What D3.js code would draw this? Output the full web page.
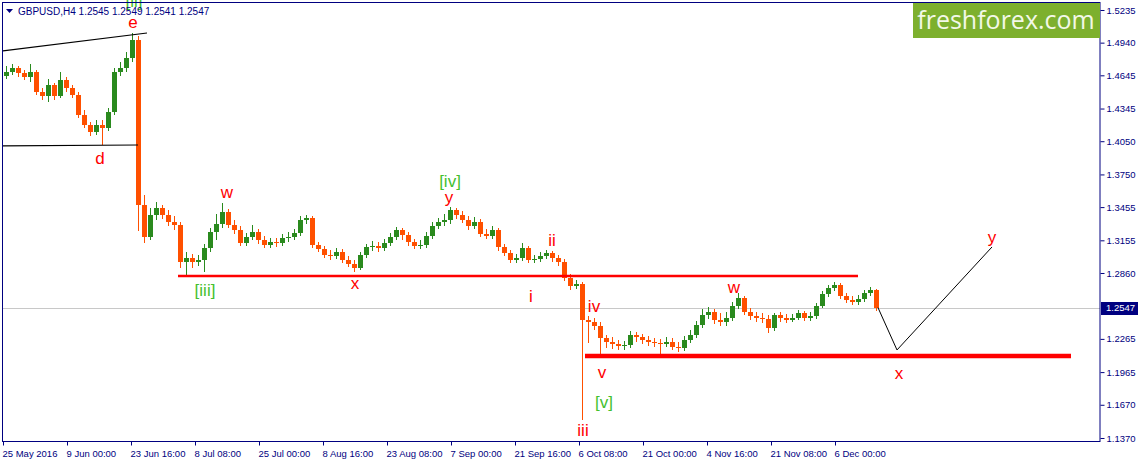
<!DOCTYPE html>
<html>
<head>
<meta charset="utf-8">
<script src="https://cdn.jsdelivr.net/npm/d3@7"></script>
<style>
  body { margin: 0; background: #fff; }
  svg { display: block; font-family: "Liberation Sans", Arial, sans-serif; }
</style>
</head>
<body>
<svg id="chart" width="1140" height="461"></svg>
<script>
// GBPUSD H4, 25 May - 12 Dec 2016, drawn as one candle per trading day (6 H4 bars each)
const dayOpen = [
  1.4639,1.4675,1.4711,1.4666,1.4630,1.4675,1.4494,1.4458,1.4558,1.4458,
  1.4603,1.4531,1.4467,1.4287,1.4196,1.4133,1.4196,1.4169,1.4314,1.4675,
  1.4711,1.4802,1.4964,1.3474,1.3185,1.3384,1.3447,1.3384,1.3321,1.3293,
  1.2959,1.2995,1.2959,1.2977,1.3086,1.3230,1.3302,1.3411,1.3293,1.3248,
  1.3131,1.3185,1.3230,1.3158,1.3113,1.3140,1.3131,1.3176,1.3185,1.3221,
  1.3339,1.3357,1.3113,1.3077,1.3023,1.3014,1.3050,1.2977,1.2941,1.2905,
  1.3023,1.3095,1.3104,1.3086,1.3131,1.3185,1.3248,1.3203,1.3140,1.3104,
  1.3113,1.3194,1.3284,1.3321,1.3339,1.3429,1.3384,1.3339,1.3284,1.3321,
  1.3212,1.3194,1.3248,1.3095,1.3041,1.2977,1.2995,1.3086,1.2977,1.2986,
  1.3014,1.3041,1.2995,1.2959,1.2815,1.2743,1.2761,1.2436,1.2418,1.2381,
  1.2273,1.2237,1.2219,1.2201,1.2210,1.2300,1.2282,1.2255,1.2237,1.2228,
  1.2219,1.2237,1.2192,1.2183,1.2255,1.2300,1.2390,1.2481,1.2508,1.2436,
  1.2418,1.2454,1.2562,1.2634,1.2508,1.2472,1.2454,1.2445,1.2363,1.2481,
  1.2454,1.2436,1.2454,1.2499,1.2454,1.2472,1.2562,1.2670,1.2725,1.2752,
  1.2652,1.2616,1.2598,1.2625,1.2679,1.2707
];
const dayHigh = [
  1.4729,1.4747,1.4729,1.4693,1.4747,1.4693,1.4531,1.4612,1.4576,1.4675,
  1.4630,1.4558,1.4494,1.4332,1.4224,1.4242,1.4242,1.4350,1.4711,1.4765,
  1.4856,1.5027,1.5000,1.3564,1.3447,1.3501,1.3474,1.3429,1.3375,1.3321,
  1.3050,1.3032,1.3023,1.3122,1.3266,1.3393,1.3492,1.3438,1.3339,1.3284,
  1.3221,1.3293,1.3257,1.3194,1.3176,1.3176,1.3212,1.3230,1.3257,1.3375,
  1.3384,1.3375,1.3140,1.3104,1.3068,1.3086,1.3077,1.3014,1.2977,1.3050,
  1.3122,1.3149,1.3140,1.3167,1.3221,1.3275,1.3266,1.3230,1.3167,1.3158,
  1.3230,1.3321,1.3357,1.3393,1.3456,1.3447,1.3420,1.3375,1.3366,1.3348,
  1.3257,1.3284,1.3266,1.3122,1.3068,1.3032,1.3131,1.3104,1.3023,1.3050,
  1.3068,1.3059,1.3023,1.2986,1.2851,1.2797,1.2779,1.2472,1.2454,1.2418,
  1.2300,1.2282,1.2255,1.2246,1.2336,1.2327,1.2309,1.2291,1.2273,1.2264,
  1.2282,1.2273,1.2237,1.2291,1.2345,1.2427,1.2535,1.2553,1.2535,1.2499,
  1.2508,1.2598,1.2679,1.2652,1.2544,1.2508,1.2499,1.2481,1.2499,1.2508,
  1.2490,1.2490,1.2526,1.2517,1.2508,1.2589,1.2697,1.2752,1.2779,1.2770,
  1.2679,1.2652,1.2661,1.2707,1.2734,1.2716
];
const dayLow = [
  1.4612,1.4648,1.4630,1.4603,1.4585,1.4467,1.4422,1.4404,1.4422,1.4440,
  1.4494,1.4440,1.4260,1.4169,1.4097,1.4106,1.4016,1.4142,1.4287,1.4639,
  1.4675,1.4765,1.3239,1.3131,1.3158,1.3339,1.3348,1.3284,1.3248,1.2905,
  1.2824,1.2905,1.2923,1.2869,1.3050,1.3158,1.3266,1.3266,1.3212,1.3104,
  1.3104,1.3158,1.3122,1.3086,1.3086,1.3095,1.3104,1.3140,1.3158,1.3194,
  1.3302,1.3086,1.3050,1.2995,1.2977,1.2986,1.2950,1.2914,1.2869,1.2887,
  1.2995,1.3059,1.3050,1.3059,1.3104,1.3158,1.3158,1.3104,1.3077,1.3077,
  1.3086,1.3167,1.3257,1.3284,1.3302,1.3348,1.3312,1.3248,1.3257,1.3185,
  1.3167,1.3167,1.3059,1.3014,1.2950,1.2950,1.2968,1.2950,1.2950,1.2959,
  1.2986,1.2959,1.2923,1.2788,1.2707,1.2716,1.1533,1.2228,1.2345,1.2092,
  1.2183,1.2174,1.2165,1.2165,1.2183,1.2237,1.2219,1.2201,1.2192,1.2092,
  1.2192,1.2165,1.2147,1.2156,1.2228,1.2273,1.2363,1.2445,1.2400,1.2381,
  1.2381,1.2427,1.2535,1.2481,1.2436,1.2418,1.2409,1.2318,1.2336,1.2418,
  1.2409,1.2418,1.2436,1.2427,1.2427,1.2445,1.2544,1.2643,1.2697,1.2625,
  1.2589,1.2571,1.2571,1.2598,1.2652,1.2517
];
const dayClose = [
  1.4675,1.4711,1.4666,1.4630,1.4675,1.4494,1.4458,1.4558,1.4458,1.4603,
  1.4531,1.4467,1.4287,1.4196,1.4133,1.4196,1.4169,1.4314,1.4675,1.4711,
  1.4802,1.4964,1.3474,1.3185,1.3384,1.3447,1.3384,1.3321,1.3293,1.2959,
  1.2995,1.2959,1.2977,1.3086,1.3230,1.3302,1.3411,1.3293,1.3248,1.3131,
  1.3185,1.3230,1.3158,1.3113,1.3140,1.3131,1.3176,1.3185,1.3221,1.3339,
  1.3357,1.3113,1.3077,1.3023,1.3014,1.3050,1.2977,1.2941,1.2905,1.3023,
  1.3095,1.3104,1.3086,1.3131,1.3185,1.3248,1.3203,1.3140,1.3104,1.3113,
  1.3194,1.3284,1.3321,1.3339,1.3429,1.3384,1.3339,1.3284,1.3321,1.3212,
  1.3194,1.3248,1.3095,1.3041,1.2977,1.2995,1.3086,1.2977,1.2986,1.3014,
  1.3041,1.2995,1.2959,1.2815,1.2743,1.2761,1.2436,1.2418,1.2381,1.2273,
  1.2237,1.2219,1.2201,1.2210,1.2300,1.2282,1.2255,1.2237,1.2228,1.2219,
  1.2237,1.2192,1.2183,1.2255,1.2300,1.2390,1.2481,1.2508,1.2436,1.2418,
  1.2454,1.2562,1.2634,1.2508,1.2472,1.2454,1.2445,1.2363,1.2481,1.2454,
  1.2436,1.2454,1.2499,1.2454,1.2472,1.2562,1.2670,1.2725,1.2752,1.2652,
  1.2616,1.2598,1.2625,1.2679,1.2707,1.2547
];

// time axis: position in H4 bars from the first bar
const timeTickBars = [0, 64, 128, 192, 256, 320, 384, 448, 512, 576, 640, 704, 768, 832];
const timeTickLabels = ["25 May 2016", "9 Jun 00:00", "23 Jun 16:00", "8 Jul 08:00", "25 Jul 00:00",
  "8 Aug 16:00", "23 Aug 08:00", "7 Sep 00:00", "21 Sep 16:00", "6 Oct 08:00", "21 Oct 00:00",
  "4 Nov 16:00", "21 Nov 08:00", "6 Dec 00:00"];
const priceTicks = [1.5235, 1.4940, 1.4645, 1.4345, 1.4050, 1.3750, 1.3455, 1.3155, 1.2860,
  1.2265, 1.1965, 1.1670, 1.1370];
const lastBar = { open: 1.2545, high: 1.2549, low: 1.2541, close: 1.2547 };

// wave count: text, bar, price, degree
const waveLabels = [
  ["[ii]", 131, 1.5318, "major"],
  ["e", 130, 1.5127, "minor"],
  ["d", 97, 1.3898, "minor"],
  ["w", 224, 1.3591, "minor"],
  ["[iii]", 202, 1.2707, "major"],
  ["x", 352, 1.2770, "minor"],
  ["[iv]", 447, 1.3691, "major"],
  ["y", 446, 1.3546, "minor"],
  ["ii", 549, 1.3158, "minor"],
  ["i", 528, 1.2652, "minor"],
  ["iv", 591, 1.2562, "minor"],
  ["v", 599, 1.1966, "minor"],
  ["[v]", 601, 1.1695, "major"],
  ["iii", 580, 1.1442, "minor"],
  ["w", 731, 1.2734, "minor"],
  ["x", 896, 1.1957, "minor"],
  ["y", 989, 1.3185, "minor"]
];

// triangle borders (black) and support / resistance (red)
const triangleTop = [[0, 1.4865], [144, 1.5027]];
const triangleBottom = [[0, 1.4008], [135, 1.4016]];
const resistanceLine = [[175, 1.2833], [855, 1.2833]];
const supportLine = [[582, 1.2111], [1068, 1.2111]];
const forecastPath = [[875, 1.2547], [894, 1.2165], [989, 1.3095]];

const navy = "#000080";
const upColor = "#2a8a1e", downColor = "#ff5000";

const svg = d3.select("#chart");
const plot = { left: 3, right: 1100, top: 2, bottom: 441 };

const x = d3.scaleLinear().domain([0, 1097]).range([plot.left, plot.right]);
const y = d3.scaleLinear().domain([1.13429, 1.53071]).range([plot.bottom, plot.top]);

// current price line
svg.append("line")
  .attr("x1", plot.left).attr("x2", plot.right)
  .attr("y1", Math.round(y(lastBar.close)) + 0.5).attr("y2", Math.round(y(lastBar.close)) + 0.5)
  .attr("stroke", "#c8c8c8").attr("stroke-width", 1);

// candles
const candles = dayClose.map((c, i) => ({ bar: i * 6 + 3, o: dayOpen[i], h: dayHigh[i], l: dayLow[i], c: c }));

const cg = svg.append("g").attr("shape-rendering", "crispEdges");
cg.selectAll("line.wick")
  .data(candles)
  .join("line")
  .attr("class", "wick")
  .attr("x1", d => Math.round(x(d.bar)) + 0.5)
  .attr("x2", d => Math.round(x(d.bar)) + 0.5)
  .attr("y1", d => y(d.h))
  .attr("y2", d => y(d.l))
  .attr("stroke", d => d.c >= d.o ? upColor : downColor)
  .attr("stroke-width", 1);
cg.selectAll("rect.body")
  .data(candles)
  .join("rect")
  .attr("class", "body")
  .attr("x", d => Math.round(x(d.bar)) - 2)
  .attr("width", 5)
  .attr("y", d => y(Math.max(d.o, d.c)))
  .attr("height", d => Math.max(1, y(Math.min(d.o, d.c)) - y(Math.max(d.o, d.c))))
  .attr("fill", d => d.c >= d.o ? upColor : downColor);

// lines
const line = d3.line().x(d => x(d[0])).y(d => y(d[1]));
svg.append("path").attr("d", line(triangleTop)).attr("fill", "none").attr("stroke", "#000").attr("stroke-width", 1.2);
svg.append("path").attr("d", line(triangleBottom)).attr("fill", "none").attr("stroke", "#000").attr("stroke-width", 1.2);
svg.append("path").attr("d", line(resistanceLine)).attr("fill", "none").attr("stroke", "#ff0000").attr("stroke-width", 2.5);
svg.append("path").attr("d", line(supportLine)).attr("fill", "none").attr("stroke", "#ff0000").attr("stroke-width", 4.5);
svg.append("path").attr("d", line(forecastPath)).attr("fill", "none").attr("stroke", "#000").attr("stroke-width", 1);

// wave labels
svg.append("g").selectAll("text")
  .data(waveLabels)
  .join("text")
  .attr("x", d => x(d[1]))
  .attr("y", d => y(d[2]))
  .attr("dy", "0.35em")
  .attr("text-anchor", "middle")
  .attr("font-size", 17)
  .attr("fill", d => d[3] === "major" ? "#44bf2e" : "#ff0000")
  .text(d => d[0]);

// frame
svg.append("rect")
  .attr("x", plot.left - 0.5).attr("y", plot.top + 0.5)
  .attr("width", plot.right - plot.left + 0.5).attr("height", plot.bottom - plot.top)
  .attr("fill", "none").attr("stroke", navy).attr("stroke-width", 1);

// time axis
const xAxis = svg.append("g")
  .attr("transform", `translate(0,${plot.bottom + 0.5})`)
  .call(d3.axisBottom(x)
    .tickValues(timeTickBars)
    .tickFormat((d, i) => timeTickLabels[i])
    .tickSize(4).tickSizeOuter(0).tickPadding(5));
xAxis.select(".domain").remove();
xAxis.selectAll("line").attr("stroke", navy);
xAxis.selectAll("text")
  .attr("text-anchor", "start")
  .attr("x", -1)
  .attr("fill", navy)
  .attr("font-size", 9.5)
  .attr("font-family", "Liberation Sans, Arial, sans-serif");

// price axis
const yAxis = svg.append("g")
  .attr("transform", `translate(${plot.right + 0.5},0)`)
  .call(d3.axisRight(y)
    .tickValues(priceTicks)
    .tickFormat(d3.format(".4f"))
    .tickSize(4).tickSizeOuter(0).tickPadding(2));
yAxis.select(".domain").remove();
yAxis.selectAll("line").attr("stroke", navy);
yAxis.selectAll("text")
  .attr("fill", navy)
  .attr("font-size", 9.5)
  .attr("font-family", "Liberation Sans, Arial, sans-serif");

// last price marker
const yLast = Math.round(y(lastBar.close));
svg.append("rect")
  .attr("x", plot.right + 1).attr("y", yLast - 6)
  .attr("width", 37).attr("height", 13)
  .attr("fill", navy);
svg.append("text")
  .attr("x", plot.right + 6).attr("y", yLast)
  .attr("dy", "0.35em")
  .attr("fill", "#fff")
  .attr("font-size", 9.5)
  .text(lastBar.close.toFixed(4));

// header
svg.append("path").attr("d", "M6,9 L13,9 L9.5,13 Z").attr("fill", navy);
svg.append("text")
  .attr("x", 18).attr("y", 15)
  .attr("font-size", 10)
  .attr("fill", navy)
  .text(`GBPUSD,H4  ${lastBar.open.toFixed(4)} ${lastBar.high.toFixed(4)} ${lastBar.low.toFixed(4)} ${lastBar.close.toFixed(4)}`);

// watermark
svg.append("rect")
  .attr("x", 913).attr("y", 3).attr("width", 187).attr("height", 35)
  .attr("fill", "#7db02e");
svg.append("text")
  .attr("x", 1006).attr("y", 29)
  .attr("text-anchor", "middle")
  .attr("font-family", "Open Sans, sans-serif")
  .attr("font-size", 25)
  .attr("fill", "#f3f8e8")
  .text("freshforex.com");
</script>
</body>
</html>
